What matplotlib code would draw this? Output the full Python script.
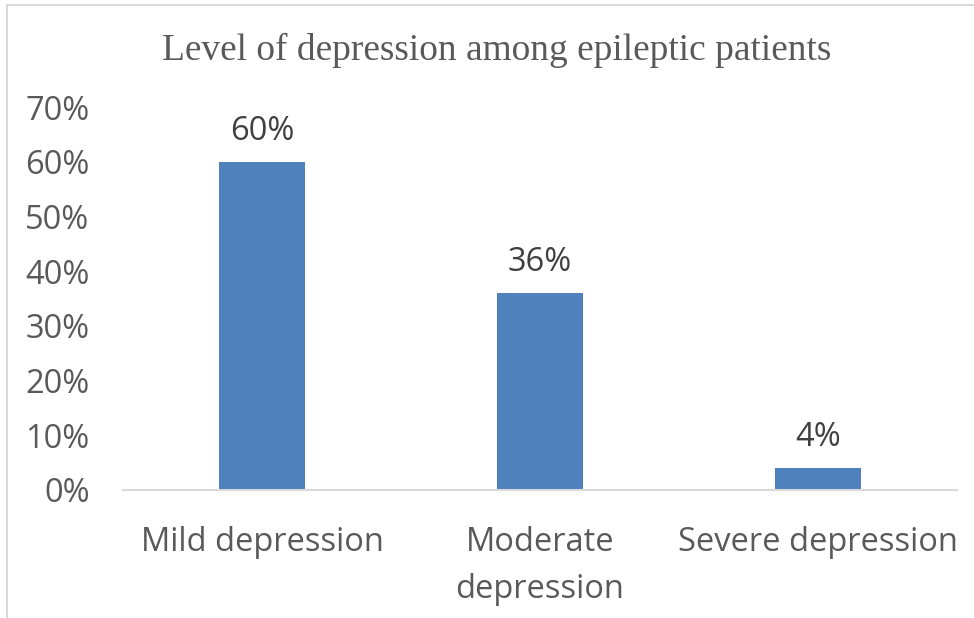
import matplotlib.pyplot as plt
from matplotlib.patches import Rectangle
from matplotlib.ticker import PercentFormatter

categories = ["Mild depression", "Moderate\ndepression", "Severe depression"]
values = [60, 36, 4]
yticks = [0, 10, 20, 30, 40, 50, 60, 70]

W, H = 974, 618
fig = plt.figure(figsize=(W / 100, H / 100), dpi=100)

# thin grey frame along the top and left edges
fig.patches.append(Rectangle((7 / W, -0.1), 1.2, (H - 5) / H + 0.1, transform=fig.transFigure,
                             fill=False, edgecolor="#d9d9d9", linewidth=1.5))

ax = fig.add_axes([123 / W, (H - 490) / H, 834 / W, 383 / H])
x = range(len(categories))
ax.bar(x, values, width=0.31, color="#4f81bd")
ax.set_xlim(-0.5, 2.5)
ax.set_ylim(0, 70)
ax.set_yticks(yticks)
ax.yaxis.set_major_formatter(PercentFormatter(decimals=0))
ax.set_xticks(list(x))
ax.set_xticklabels(categories)

for s in ["top", "right", "left"]:
    ax.spines[s].set_visible(False)
ax.spines["bottom"].set_color("#d9d9d9")
ax.spines["bottom"].set_linewidth(1.5)
ax.tick_params(length=0, labelsize=23.5, colors="#595959", labelfontfamily="Open Sans")
ax.tick_params(axis="y", pad=24)
ax.tick_params(axis="x", pad=26)
for lbl in ax.get_xticklabels():
    lbl.set_linespacing(1.55)

for i, v in enumerate(values):
    ax.annotate(f"{v}%", (i, v), xytext=(0, 10), textcoords="offset points",
                ha="center", va="bottom", fontsize=23.5, color="#404040", family="Open Sans")

fig.text(497 / W, 1 - 50 / H, "Level of depression among epileptic patients",
         ha="center", va="center", fontsize=26.9, color="#595959", family="Liberation Serif")

fig.savefig("out.png", dpi=100)
